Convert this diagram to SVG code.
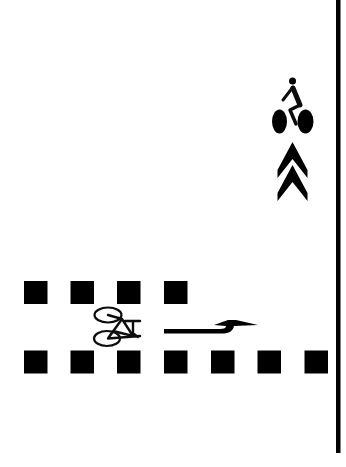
<svg xmlns="http://www.w3.org/2000/svg" width="346" height="467" viewBox="0 0 346 467">
<defs><style>
.sq{fill:#000}
.thin{fill:none;stroke:#111;stroke-linecap:round;stroke-linejoin:round}
</style>
<filter id="b" x="-10%" y="-10%" width="120%" height="120%"><feGaussianBlur stdDeviation="0.7"/></filter></defs>
<rect width="346" height="467" fill="#fff"/>
<g filter="url(#b)">
<g id="edge-line"><rect x="336" y="0" width="4.500" height="453" fill="#000"/></g>
<g id="top-row">
<rect class="sq" x="24" y="281" width="23.500" height="23"/>
<rect class="sq" x="70.500" y="281" width="23.500" height="23"/>
<rect class="sq" x="117" y="281" width="23.500" height="23"/>
<rect class="sq" x="164" y="281" width="23.500" height="23"/>
</g>
<g id="bottom-row">
<rect class="sq" x="24" y="350.500" width="23.500" height="23"/>
<rect class="sq" x="70.500" y="350.500" width="23.500" height="23"/>
<rect class="sq" x="117" y="350.500" width="23.500" height="23"/>
<rect class="sq" x="164" y="350.500" width="23.500" height="23"/>
<rect class="sq" x="211" y="350.500" width="23.500" height="23"/>
<rect class="sq" x="257.500" y="350.500" width="23.500" height="23"/>
<rect class="sq" x="304.500" y="350.500" width="23.500" height="23"/>
</g>
<g id="cyclist">
<ellipse cx="279.500" cy="121.500" rx="7.500" ry="12"/>
<ellipse cx="305.500" cy="121.500" rx="8" ry="12"/>
<circle cx="292.500" cy="81" r="3.500"/>
<path d="M293 87L283 100" class="thin" stroke-width="3"/>
<path d="M293 88L300 105" class="thin" stroke-width="5"/>
<path d="M300 105L290 110L296 124" class="thin" stroke-width="3.500"/>
</g>
<g id="chevrons">
<path d="M292.500 142L307.500 170L307.500 178L292.500 159L277.500 178L277.500 170Z"/>
<path d="M292.500 165L307.500 193L307.500 201L292.500 182L277.500 201L277.500 193Z"/>
</g>
<g id="bike-marking" class="thin" stroke-width="2.200">
<ellipse cx="108" cy="315" rx="13.500" ry="7.500"/>
<ellipse cx="107" cy="338.500" rx="13" ry="7.500"/>
<path d="M108 315L122 319L108 338.500L140 336M122 319L133 336L113 331L108 338.500M133 321L133 336M125 321H140M134 334L138 337" stroke-width="2.400"/>
</g>
<g id="arrow">
<path d="M164 329L164 333.500L222 333.500C229 333.500 233 331 234 326L258 325L236 320L228 320L214 325L226 326C226 328 224 329 220 329Z"/>
</g>
</g>
</svg>
